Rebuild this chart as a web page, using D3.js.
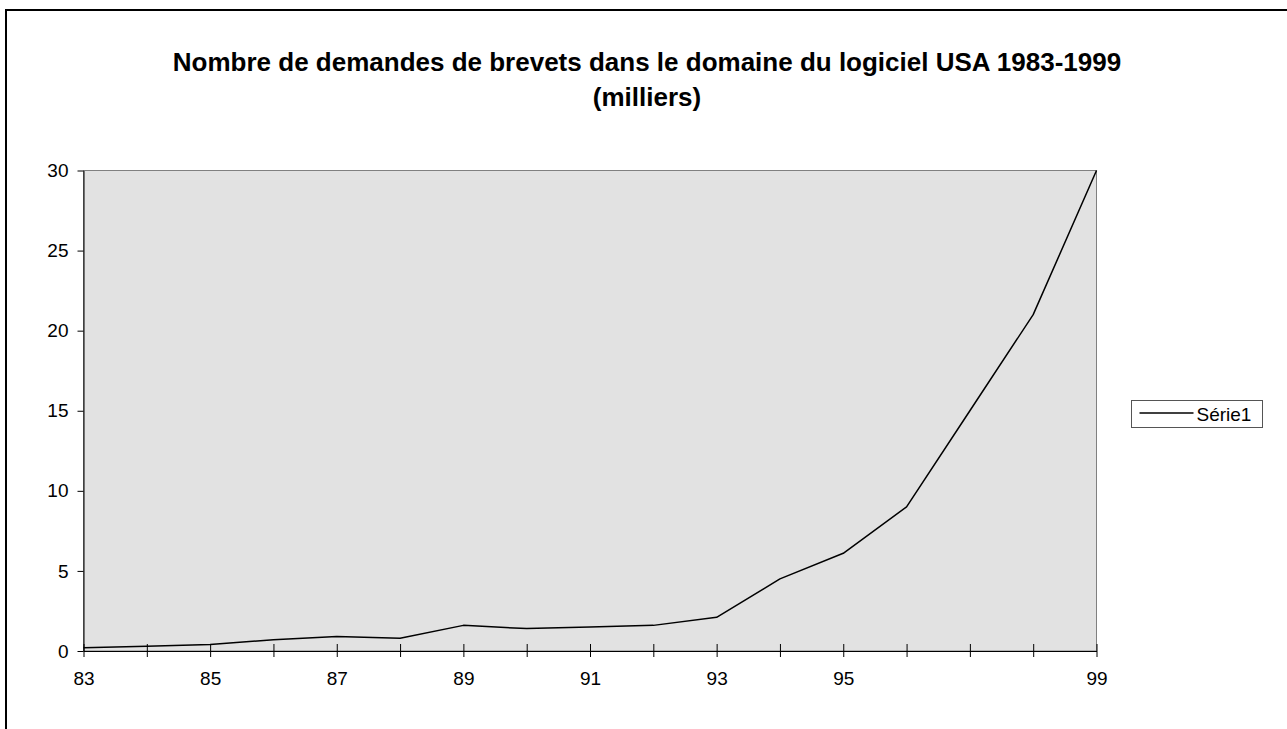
<!DOCTYPE html>
<html>
<head>
<meta charset="utf-8">
<script src="https://cdn.jsdelivr.net/npm/d3@7"></script>
<style>
  body { margin: 0; background: #fff; }
  svg { display: block; font-family: "Liberation Sans", Arial, sans-serif; }
</style>
</head>
<body>
<svg id="chart"></svg>
<script>
// values (thousands of applications)
const years = [83, 84, 85, 86, 87, 88, 89, 90, 91, 92, 93, 94, 95, 96, 97, 98, 99];
const values = [0.2, 0.3, 0.4, 0.7, 0.9, 0.8, 1.6, 1.4, 1.5, 1.6, 2.1, 4.5, 6.1, 9.0, 15.0, 21.0, 30.0];
const xLabels = [83, 85, 87, 89, 91, 93, 95, 99];
const yTicks = [0, 5, 10, 15, 20, 25, 30];
const titleLines = ["Nombre de demandes de brevets dans le domaine du logiciel USA 1983-1999", "(milliers)"];
const seriesName = "Série1";

const svgWidth = 1287, svgHeight = 729;
const margin = { top: 170.5, right: 190.5, bottom: 78, left: 83.5 };
const width = svgWidth - margin.left - margin.right;
const height = svgHeight - margin.top - margin.bottom;
const labelFont = 19;

const svg = d3.select("#chart")
  .attr("width", svgWidth)
  .attr("height", svgHeight);

// outer chart border (runs off the right and bottom)
svg.append("rect")
  .attr("x", 6).attr("y", 10)
  .attr("width", 1300).attr("height", 800)
  .attr("fill", "none")
  .attr("stroke", "#000")
  .attr("stroke-width", 2);

svg.append("text")
  .attr("text-anchor", "middle")
  .attr("font-weight", "bold")
  .attr("font-size", 26)
  .selectAll("tspan")
  .data(titleLines)
  .join("tspan")
  .attr("x", 647)
  .attr("y", (d, i) => 71 + i * 35)
  .text(d => d);

const g = svg.append("g")
  .attr("transform", `translate(${margin.left},${margin.top})`);

const x = d3.scaleLinear().domain([83, 99]).range([0, width]);
const y = d3.scaleLinear().domain([0, 30]).range([height, 0]);

// plot area
g.append("rect")
  .attr("width", width)
  .attr("height", height)
  .attr("fill", "#e2e2e2")
  .attr("stroke", "#808080")
  .attr("stroke-width", 1);

// y axis
const yAxis = g.append("g")
  .call(d3.axisLeft(y).tickValues(yTicks).tickSize(6).tickPadding(9).tickSizeOuter(0));
yAxis.select(".domain").attr("stroke", "#000");
yAxis.selectAll("text").attr("font-size", labelFont).attr("fill", "#000").attr("font-family", "Liberation Sans, Arial, sans-serif");

// x axis: ticks cross the axis line
const xAxis = g.append("g")
  .attr("transform", `translate(0,${height})`)
  .call(d3.axisBottom(x).tickValues(years).tickSize(6).tickPadding(15).tickSizeOuter(0)
    .tickFormat(d => xLabels.includes(d) ? d : ""));
xAxis.select(".domain").attr("stroke", "#000");
xAxis.selectAll(".tick line").attr("y1", -7);
xAxis.selectAll("text").attr("font-size", labelFont).attr("fill", "#000").attr("font-family", "Liberation Sans, Arial, sans-serif");

// series line
const line = d3.line()
  .x((d, i) => x(years[i]))
  .y(d => y(d));

g.append("path")
  .datum(values)
  .attr("fill", "none")
  .attr("stroke", "#000")
  .attr("stroke-width", 1.5)
  .attr("stroke-linejoin", "round")
  .attr("d", line);

// legend
const legend = svg.append("g").attr("transform", "translate(1131.5,400.5)");
legend.append("rect")
  .attr("width", 131)
  .attr("height", 27)
  .attr("fill", "#fff")
  .attr("stroke", "#555");
legend.append("line")
  .attr("x1", 8).attr("x2", 62)
  .attr("y1", 12.5).attr("y2", 12.5)
  .attr("stroke", "#000")
  .attr("stroke-width", 1.5);
legend.append("text")
  .attr("x", 65)
  .attr("y", 20)
  .attr("font-size", labelFont)
  .text(seriesName);
</script>
</body>
</html>
